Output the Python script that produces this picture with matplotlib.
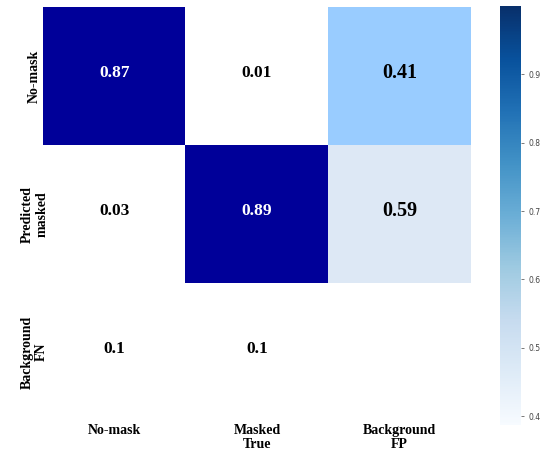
import numpy as np
import matplotlib.pyplot as plt
from matplotlib.colors import ListedColormap, BoundaryNorm, Normalize
from matplotlib.cm import ScalarMappable

# confusion matrix values (rows: predicted, cols: true)
row_labels = ['No-mask', 'Predicted\nmasked', 'Background\nFN']
col_labels = ['No-mask', 'Masked\nTrue', 'Background\nFP']
matrix = np.array([
    [0.87, 0.01, 0.41],
    [0.03, 0.89, 0.59],
    [0.10, 0.10, np.nan],
])
cbar_min, cbar_max = 0.387, 1.0
cbar_ticks = [0.4, 0.5, 0.6, 0.7, 0.8, 0.9]

plt.rcParams['font.family'] = ['Liberation Serif', 'DejaVu Serif']

fig = plt.figure(figsize=(5.47, 4.55), dpi=100)
W, H = 547, 455
ax = fig.add_axes([43 / W, 1 - 421 / H, (471 - 43) / W, (421 - 7) / H])
cax = fig.add_axes([500 / W, 1 - 425 / H, (521 - 500) / W, (425 - 6) / H])

# cell shading by value band
cell_cmap = ListedColormap(['#ffffff', '#99ccff', '#dde8f5', '#ffffff', '#000099'])
cell_cmap.set_bad('#ffffff')
cell_norm = BoundaryNorm([0, 0.3, 0.5, 0.7, 0.8, 1.0], cell_cmap.N)
ax.imshow(np.ma.masked_invalid(matrix), cmap=cell_cmap, norm=cell_norm,
          aspect='auto', interpolation='nearest')

for i in range(matrix.shape[0]):
    for j in range(matrix.shape[1]):
        v = matrix[i, j]
        if np.isnan(v):
            continue
        color = 'white' if v > 0.8 else 'black'
        size = 14.5 if 0.3 < v < 0.7 else 12.5
        ax.text(j, i - 0.02, f'{v:g}', ha='center', va='center', color=color,
                fontsize=size, fontweight='bold')

ax.set_xticks(range(len(col_labels)))
ax.set_xticklabels(col_labels, fontsize=10, fontweight='bold', linespacing=1.1)
ax.set_yticks(range(len(row_labels)))
ax.set_yticklabels(row_labels, fontsize=10, fontweight='bold', rotation=90,
                   va='center', ha='center', linespacing=1.1)
ax.tick_params(length=0, pad=2)
ax.tick_params(axis='y', pad=6)
for s in ax.spines.values():
    s.set_visible(False)

sm = ScalarMappable(norm=Normalize(cbar_min, cbar_max), cmap='Blues')
cb = fig.colorbar(sm, cax=cax, ticks=cbar_ticks)
cb.outline.set_visible(False)
cb.ax.tick_params(labelsize=5.5, colors='#444444', length=2, width=0.5)
for lab in cb.ax.get_yticklabels():
    lab.set_family('DejaVu Sans')

fig.savefig('out.png', dpi=100)
